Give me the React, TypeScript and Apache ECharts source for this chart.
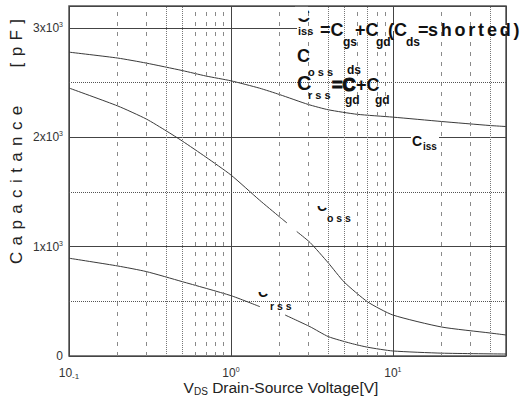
import React, { useEffect, useRef } from 'react';
import * as echarts from 'echarts';

// ---- data ----
const cissX = [0.1, 0.2, 0.3, 0.5, 0.7, 1, 1.5, 2, 3, 4, 6, 10, 20, 40, 50];
const cissY = [2778, 2724, 2678, 2610, 2560, 2516, 2449, 2390, 2300, 2251, 2210, 2184, 2144, 2107, 2098];

const cossX = [0.1, 0.2, 0.3, 0.4, 0.5, 0.7, 1, 1.5, 2, 2.22, 2.4, 2.55, 3.08, 4, 5, 7, 10, 20, 40, 50];
const cossY = [2450, 2286, 2167, 2057, 1966, 1819, 1655, 1426, 1271, 1216, null, 1138, 1038, 850, 677, 494, 375, 265, 210, 192];

const crssX = [0.1, 0.2, 0.3, 0.5, 1, 1.51, 1.8, 2.16, 3.08, 4, 5.5, 7, 10, 20, 50];
const crssY = [894, 823, 772, 680, 552, 451, null, 375, 268, 177, 116, 80, 46, 26, 18];

const dashedMinorX = [0.2, 0.3, 0.6, 0.7, 0.8, 0.9, 2, 3, 6, 8, 9, 20, 30];
const dottedMinorX = [0.4, 0.5, 4, 5, 7, 40];
const dottedMinorY = [500, 1500, 2500];

const yTickValues = [0, 1000, 2000, 3000];

const FONT = "'Liberation Sans', Arial, sans-serif";

function txt(x: number, y: number, text: string, size: number, bold: boolean, extra: any = {}) {
  return {
    type: 'text',
    x,
    y,
    z: 100,
    style: {
      text,
      fontSize: size,
      fontWeight: bold ? 'bold' : 'normal',
      fontFamily: FONT,
      fill: '#111',
      align: 'left',
      verticalAlign: 'middle',
      textAlign: 'left',
      textVerticalAlign: 'middle',
      ...extra,
    },
  };
}

function whiteRect(x: number, y: number, w: number, h: number, z = 1) {
  return { type: 'rect', z, shape: { x, y, width: w, height: h }, style: { fill: '#fff' } };
}

function pairs(xs: number[], ys: (number | null)[]) {
  return xs.map((x, i) => [x, ys[i] === null ? '-' : ys[i]]);
}

function spaced(s: string, tok: string) {
  return s.split('').join(`{${tok}| }`);
}

export default function App() {
  const ref = useRef<HTMLDivElement>(null);
  useEffect(() => {
    if (!ref.current) return;
    const chart = echarts.init(ref.current, null, { renderer: 'svg' });
    const lineStyle = { color: '#3a3a3a', width: 1 };
    const markLineData = [
      ...dashedMinorX.map((v) => ({ xAxis: v, lineStyle: { type: [4, 6], color: '#8a8a8a', width: 1 } })),
      ...dottedMinorX.map((v) => ({ xAxis: v, lineStyle: { type: [1, 1], color: '#777', width: 1 } })),
      ...dottedMinorY.map((v) => ({ yAxis: v, lineStyle: { type: [1, 1], color: '#555', width: 1 } })),
    ];
    const common = { type: 'line', showSymbol: false, smooth: 0.2, connectNulls: false, lineStyle, silent: true };
    const option: any = {
      animation: false,
      backgroundColor: '#fff',
      grid: { left: 69, right: 15, top: 6, bottom: 49, show: true, borderColor: '#555', borderWidth: 1.5, backgroundColor: 'transparent' },
      xAxis: {
        type: 'log',
        logBase: 10,
        min: 0.1,
        max: 50,
        axisLine: { show: false },
        axisTick: { show: false },
        splitLine: { show: true, lineStyle: { color: '#444', width: 1 } },
        axisLabel: {
          margin: 10,
          color: '#333',
          fontFamily: FONT,
          formatter: (v: number) => {
            const e = Math.log10(v);
            const r = Math.round(e);
            if (Math.abs(e - r) > 1e-6) return '';
            if (r < 0) return `{a|10}{d|${r}}`;
            return `{a|10}{s|${r}}`;
          },
          rich: {
            a: { fontSize: 12, color: '#333', fontFamily: FONT, lineHeight: 14 },
            s: { fontSize: 7, color: '#333', fontFamily: FONT, lineHeight: 7, verticalAlign: 'top' },
            d: { fontSize: 8, color: '#333', fontFamily: FONT, lineHeight: 8, verticalAlign: 'bottom' },
          },
        },
      },
      yAxis: {
        type: 'value',
        min: 0,
        max: 3200,
        interval: 1000,
        axisLine: { show: false },
        axisTick: { show: false },
        splitLine: { show: true, lineStyle: { color: '#444', width: 1 } },
        axisLabel: {
          margin: 6,
          color: '#333',
          fontFamily: FONT,
          formatter: (v: number) => {
            if (!yTickValues.includes(v)) return '';
            if (v === 0) return '{a|0}';
            return `{a|${v / 1000}x10}{s|3}`;
          },
          rich: {
            a: { fontSize: 12, color: '#333', fontFamily: FONT, lineHeight: 14 },
            s: { fontSize: 7, color: '#333', fontFamily: FONT, lineHeight: 7, verticalAlign: 'top' },
          },
        },
      },
      series: [
        {
          ...common,
          name: 'Ciss',
          data: pairs(cissX, cissY),
          markLine: { symbol: ['none', 'none'], silent: true, label: { show: false }, data: markLineData },
        },
        { ...common, name: 'Coss', data: pairs(cossX, cossY) },
        { ...common, name: 'Crss', data: pairs(crssX, crssY) },
      ],
      graphic: [
        // white backdrop behind formula line 1 & Ciss label
        whiteRect(297, 25, 210, 6),
        whiteRect(411, 134, 28, 6),
        // Formula line 1
        txt(297, 15.5, 'C', 18, true),
        whiteRect(295, 6.8, 13, 11.5, 101),
        txt(298, 30.5, 'iss', 11, true),
        txt(320, 30, '=C', 18, true),
        txt(343, 42, 'gs', 12, true),
        txt(355, 30, '+C', 18, true),
        txt(376, 42, 'gd', 12, true),
        txt(388, 30, '(C', 18, true),
        txt(406, 42, 'ds', 12, true),
        txt(418, 30, '=', 18, true),
        {
          ...txt(428, 30, spaced('shorted)', 'g'), 18, true, {
            rich: { g: { fontSize: 10, fontFamily: FONT, fontWeight: 'bold' } },
          }),
        },
        // line 2
        txt(297, 56, 'C', 18, true),
        // line 3 (overlapping Coss / Crss formulas)
        txt(297, 83, 'C', 20, true),
        txt(308, 72, 'o s s', 11, true),
        txt(308, 95, 'r s s', 11, true),
        txt(332, 85, '=C', 18, true, { stroke: '#111', lineWidth: 1.2, lineHeight: 14 }),
        txt(347, 69.5, 'ds', 12, true, { lineHeight: 12 }),
        txt(345, 100, 'gd', 12, true, { lineHeight: 12 }),
        txt(356, 85, '+C', 18, true, { lineHeight: 14 }),
        txt(375, 100, 'gd', 12, true, { lineHeight: 12 }),
        // curve labels
        txt(412, 141, 'C', 14, true),
        txt(423, 146, 'iss', 10, true),
        txt(317, 206, 'C', 14, true),
        whiteRect(315, 198, 12, 8, 101),
        txt(327, 218, 'o s s', 10.5, true),
        txt(258, 292, 'C', 14, true),
        whiteRect(256, 284, 13, 8, 101),
        txt(270, 306, 'r s s', 10.5, true),
        // axis titles
        {
          type: 'text',
          x: 16,
          y: 141.5,
          rotation: Math.PI / 2,
          z: 100,
          style: {
            text: spaced('Capacitance', 'g') + '{w|      }' + spaced('[pF]', 'g'),
            fontSize: 17,
            fontFamily: FONT,
            fill: '#222',
            align: 'center',
            verticalAlign: 'middle',
            textAlign: 'center',
            textVerticalAlign: 'middle',
            rich: {
              g: { fontSize: 23, fontFamily: FONT },
              w: { fontSize: 23, fontFamily: FONT },
            },
          },
        },
        {
          type: 'text',
          x: 281,
          y: 387,
          z: 100,
          style: {
            text: '{v|V}{d|DS}{t| Drain-Source Voltage[V]}',
            fontSize: 15.5,
            fontFamily: FONT,
            fill: '#222',
            align: 'center',
            verticalAlign: 'middle',
            textAlign: 'center',
            textVerticalAlign: 'middle',
            rich: {
              v: { fontSize: 15.5, fontFamily: FONT, fill: '#222', color: '#222', lineHeight: 18 },
              d: { fontSize: 10, fontFamily: FONT, fill: '#222', color: '#222', lineHeight: 14, verticalAlign: 'bottom' },
              t: { fontSize: 15.5, fontFamily: FONT, fill: '#222', color: '#222', lineHeight: 18 },
            },
          },
        },
      ],
    };
    chart.setOption(option);
    return () => chart.dispose();
  }, []);
  return <div ref={ref} style={{ position: 'fixed', left: 0, top: 0, width: 521, height: 405, background: '#fff' }} />;
}
